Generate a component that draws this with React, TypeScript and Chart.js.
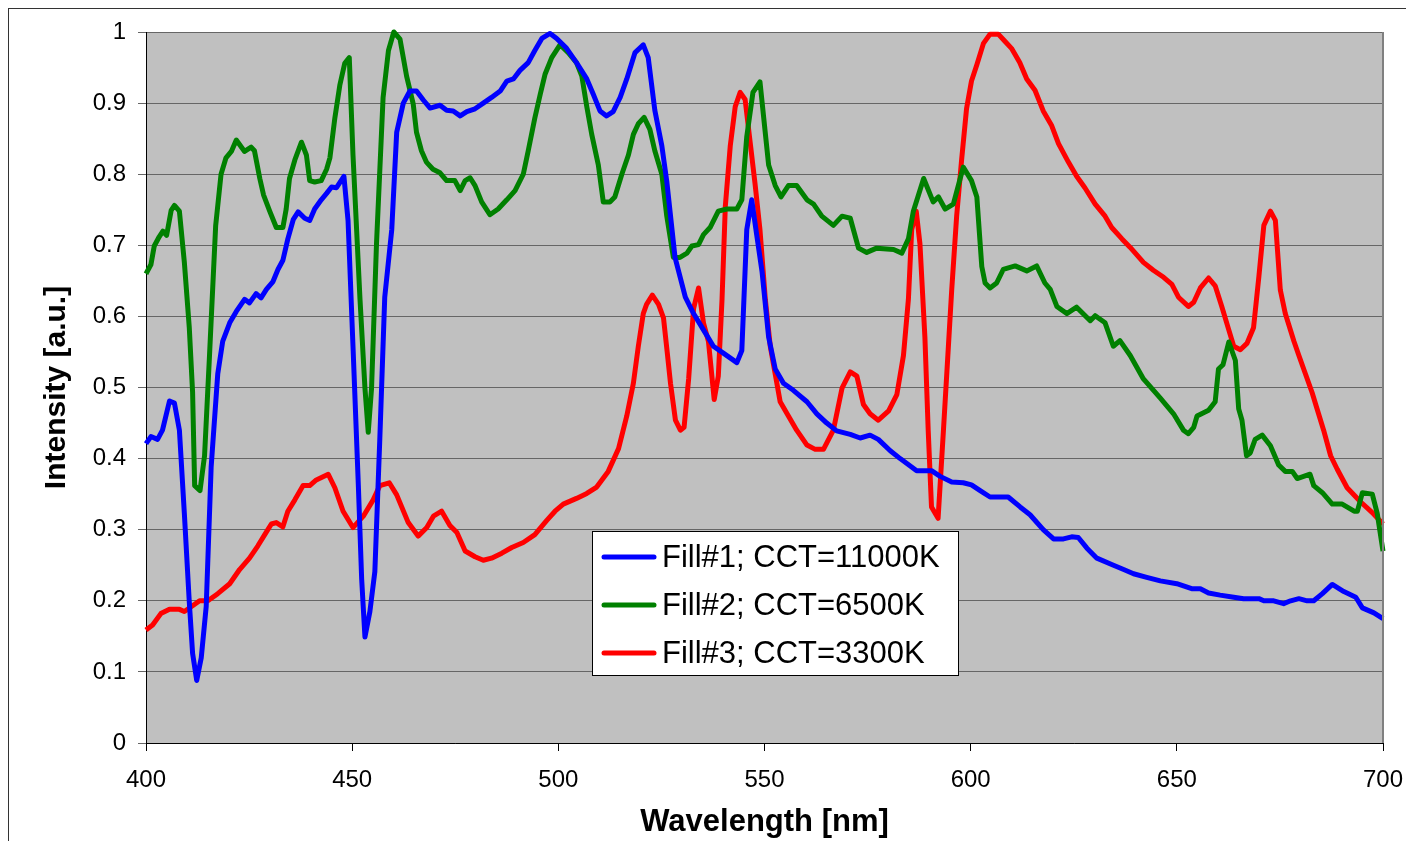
import React, { useEffect, useRef } from "react";
import { Chart, registerables } from "chart.js";

Chart.register(...registerables);

const xTicks = [400, 450, 500, 550, 600, 650, 700];
const yTicks = [0, 0.1, 0.2, 0.3, 0.4, 0.5, 0.6, 0.7, 0.8, 0.9, 1];

const seriesNames = ["Fill#1; CCT=11000K", "Fill#2; CCT=6500K", "Fill#3; CCT=3300K"];
const seriesColors = ["#0000FF", "#008000", "#FF0000"];

const fill1Nm = [400,401.2,402.8,404,405.7,406.9,408.1,409.3,410.5,411.3,412.3,413.4,414.6,415.8,417.4,418.6,420.3,421.9,423.9,425.1,426.7,427.9,429.2,430.8,432,433.2,434.4,435.7,436.9,438.5,439.7,440.9,442.5,443.8,445,446.2,448,449,450.2,451.5,452.3,453.1,454.3,455.5,456.7,457.9,459.6,460.8,462.4,464,465.6,467.3,468.9,471.3,472.9,474.5,476.2,477.8,479.8,481.8,483.8,485.9,487.5,489.1,490.7,492.7,494.3,496,498,499.6,502,504.4,506.9,508.5,510.1,511.7,513.3,515,516.6,518.6,520.6,521.8,523.4,525.1,526.3,528.3,530.8,532.8,535.2,537.6,540.1,543.3,544.5,545.7,546.9,548.1,549.4,551,552.6,554.6,557,560.3,562.7,565.1,567.5,570.8,573.2,575.6,577.6,580.5,582.9,586.9,590.5,592.6,595.4,598.2,600.2,602.3,604.7,609.1,612,614.4,617.6,620.1,622.5,624.5,626.1,628.2,630.6,634.2,637.1,639.5,642.7,646,650,653.6,655.7,657.7,660.5,663.8,666.2,669.9,671.1,673.5,675.9,677.6,679.6,681.6,683.2,685.3,687.7,690.5,693.4,695,697.8,700];
const fill1Val = [0.421,0.431,0.427,0.44,0.481,0.478,0.44,0.323,0.198,0.126,0.088,0.12,0.192,0.388,0.519,0.565,0.591,0.607,0.624,0.619,0.632,0.626,0.638,0.649,0.666,0.679,0.709,0.736,0.747,0.738,0.735,0.751,0.764,0.773,0.782,0.781,0.797,0.735,0.558,0.362,0.231,0.149,0.185,0.241,0.427,0.627,0.722,0.859,0.9,0.917,0.917,0.904,0.893,0.897,0.89,0.889,0.882,0.888,0.892,0.9,0.908,0.917,0.931,0.934,0.946,0.957,0.974,0.991,0.998,0.991,0.977,0.957,0.934,0.912,0.889,0.882,0.888,0.908,0.934,0.971,0.982,0.964,0.89,0.84,0.79,0.683,0.627,0.604,0.581,0.558,0.548,0.535,0.552,0.722,0.764,0.715,0.663,0.571,0.526,0.506,0.496,0.48,0.463,0.45,0.439,0.434,0.429,0.433,0.427,0.411,0.4,0.383,0.383,0.375,0.367,0.366,0.363,0.355,0.346,0.346,0.332,0.321,0.3,0.287,0.287,0.29,0.289,0.274,0.26,0.251,0.244,0.238,0.233,0.228,0.224,0.217,0.217,0.211,0.208,0.205,0.203,0.203,0.2,0.2,0.196,0.2,0.203,0.2,0.2,0.21,0.223,0.213,0.205,0.19,0.183,0.175];

const fill2Nm = [400,401.2,402,403.2,404.1,405,406.1,406.9,408.1,409.3,410.5,411.3,411.8,413.1,414.2,415.4,416.9,418.2,419.4,420.7,421.9,423.9,425.5,426.3,427.6,428.5,430,431.6,433.2,434,434.8,436.1,437.7,438.9,439.7,440.9,442.5,443.8,444.6,445.8,447,448.2,449.3,450.2,451.9,453.1,453.9,454.7,455.9,457.5,458.8,460.1,461.6,463.2,464.8,465.6,466.8,468,469.6,471.3,472.9,474.9,476.2,477.4,478.6,479.8,481.4,483.4,485.4,487.5,489.5,491.5,492.7,494.3,495.6,496.8,498.4,500.4,502.4,504.4,505.7,506.9,508.1,509.7,510.9,512.5,513.7,515.4,517,518.2,519.4,520.8,522.2,523.4,525.1,526.3,527.9,529.5,531.2,532.4,534,535.2,536.8,538.8,540.9,543.3,544.5,545.7,547.2,548.9,551,552.6,554,555.8,557.8,560.3,561.9,563.9,566.7,568.8,570.8,572.8,574.8,577.2,581.3,583.3,584.9,586.1,588.6,590.9,592.2,593.8,595.8,598.2,600.2,601.5,602.7,603.5,604.7,606.3,607.9,610.8,613.6,616,618,619.3,620.9,623.3,625.7,629,630.2,632.6,634.6,636.2,638.7,641.9,646,649.2,651.6,652.8,654.1,654.9,657.7,659.3,660.1,661.2,662.6,664.2,665,665.8,666.9,667.8,669,670.7,672.7,674.7,676.3,678,679.2,682.3,683.2,685.3,687.7,690.1,693,693.8,695,697.4,698.6,700];
const fill2Val = [0.66,0.673,0.699,0.712,0.72,0.714,0.749,0.756,0.748,0.676,0.584,0.493,0.362,0.355,0.404,0.545,0.728,0.8,0.823,0.832,0.848,0.832,0.838,0.833,0.794,0.771,0.748,0.725,0.725,0.751,0.794,0.82,0.845,0.827,0.791,0.789,0.791,0.807,0.823,0.879,0.925,0.956,0.964,0.827,0.624,0.499,0.437,0.499,0.702,0.908,0.974,1.0,0.99,0.938,0.899,0.859,0.833,0.817,0.807,0.802,0.791,0.791,0.777,0.791,0.795,0.784,0.761,0.743,0.751,0.764,0.777,0.8,0.833,0.879,0.912,0.941,0.964,0.982,0.971,0.957,0.938,0.895,0.856,0.813,0.761,0.761,0.768,0.8,0.827,0.856,0.871,0.88,0.863,0.833,0.8,0.741,0.683,0.683,0.689,0.699,0.701,0.715,0.725,0.748,0.751,0.751,0.764,0.853,0.915,0.93,0.813,0.784,0.768,0.784,0.784,0.764,0.758,0.741,0.728,0.741,0.738,0.696,0.69,0.696,0.694,0.689,0.709,0.748,0.794,0.761,0.768,0.751,0.758,0.81,0.791,0.768,0.67,0.647,0.64,0.647,0.666,0.671,0.664,0.671,0.647,0.638,0.614,0.604,0.613,0.594,0.601,0.591,0.558,0.566,0.545,0.512,0.485,0.463,0.44,0.435,0.444,0.46,0.468,0.48,0.526,0.532,0.564,0.538,0.47,0.454,0.404,0.408,0.427,0.433,0.418,0.391,0.382,0.382,0.372,0.378,0.362,0.352,0.336,0.336,0.326,0.326,0.352,0.35,0.323,0.27];

const fill3Nm = [400,401.6,403.6,405.7,408.1,409.3,411.3,413,415,417.4,420.3,422.7,425.1,427.1,428.8,430.4,431.6,433.2,434.4,436.1,438.1,439.7,441.3,444.2,445.8,447.8,450.2,452.7,455.1,456.7,459,460.8,463.6,466,468.1,469.7,471.7,473.7,475.4,477.4,479.8,481.8,483.8,486.3,488.7,491.5,494.3,497.2,499.2,501.2,504.4,506.9,509.3,512.1,514.6,516.6,518.2,519.4,520.6,521.4,522.8,524.3,525.5,526.4,527.2,528.4,529.6,530.5,531.6,532.8,534,535.2,536.4,537.8,538.8,539.7,540.5,541.7,542.9,544.1,545.3,546.5,547.7,548.9,550.2,551.4,552.6,553.8,555.8,557.8,560.3,562.3,564.3,566.7,568.8,570.8,572.4,574,575.6,577.6,580.1,582.1,583.7,584.9,585.7,586.8,587.7,588.9,589.7,590.5,592.1,593.4,594.6,595.4,596.6,597.8,599,600.2,601.5,603.1,604.7,606.7,608.3,609.9,611.9,613.6,615.6,617.6,619.6,621.3,623.7,625.7,627.7,630.2,632.6,634.2,636.7,638.7,641.9,644.3,646.8,648.8,650.4,652.8,654.1,655.7,657.7,659.3,660.9,662.6,663.8,665.4,667,668.6,669.9,671.1,672.7,673.9,675.1,676.3,678.4,679.6,681.2,682.8,684,685.6,687.3,688.9,691.3,694.6,697.4,700];
const fill3Val = [0.159,0.166,0.182,0.188,0.188,0.185,0.193,0.2,0.2,0.21,0.224,0.244,0.26,0.277,0.293,0.308,0.31,0.304,0.326,0.342,0.362,0.362,0.37,0.378,0.359,0.326,0.303,0.319,0.342,0.362,0.366,0.349,0.31,0.291,0.303,0.319,0.326,0.306,0.296,0.27,0.262,0.257,0.26,0.267,0.275,0.282,0.293,0.313,0.326,0.336,0.344,0.351,0.36,0.382,0.414,0.46,0.506,0.558,0.604,0.617,0.63,0.617,0.598,0.55,0.506,0.454,0.44,0.444,0.512,0.611,0.64,0.591,0.565,0.483,0.516,0.624,0.755,0.84,0.895,0.915,0.905,0.846,0.787,0.722,0.624,0.558,0.519,0.48,0.46,0.44,0.419,0.413,0.413,0.44,0.499,0.522,0.516,0.476,0.463,0.454,0.467,0.49,0.545,0.624,0.722,0.748,0.702,0.571,0.44,0.332,0.316,0.44,0.558,0.637,0.741,0.82,0.892,0.931,0.954,0.984,0.997,0.997,0.987,0.977,0.957,0.934,0.918,0.889,0.869,0.843,0.817,0.797,0.781,0.758,0.741,0.725,0.709,0.697,0.676,0.665,0.655,0.645,0.627,0.614,0.62,0.64,0.654,0.643,0.614,0.581,0.558,0.553,0.562,0.584,0.656,0.728,0.748,0.735,0.637,0.604,0.565,0.545,0.519,0.493,0.47,0.44,0.404,0.385,0.359,0.339,0.324,0.308];

const FONT = "'Liberation Sans', Arial, sans-serif";

function toPoints(xs: number[], ys: number[]) {
  return xs.map((x, i) => ({ x, y: ys[i] }));
}

const plotBgPlugin = {
  id: "plotBg",
  beforeDraw(chart: any) {
    const { ctx, chartArea } = chart;
    ctx.save();
    ctx.fillStyle = "#C0C0C0";
    ctx.fillRect(chartArea.left, chartArea.top, chartArea.right - chartArea.left, chartArea.bottom - chartArea.top);
    ctx.restore();
  },
  afterDatasetsDraw(chart: any) {
    const { ctx, chartArea } = chart;
    ctx.save();
    ctx.strokeStyle = "#808080";
    ctx.lineWidth = 2;
    ctx.beginPath();
    ctx.moveTo(chartArea.right, chartArea.top);
    ctx.lineTo(chartArea.right, chartArea.bottom);
    ctx.stroke();
    ctx.restore();
  },
};

const boxLegendPlugin = {
  id: "boxLegend",
  afterDraw(chart: any) {
    const { ctx, chartArea } = chart;
    const left = chartArea.left + 446;
    const top = chartArea.top + 499;
    const w = 366;
    const h = 144;
    ctx.save();
    ctx.fillStyle = "#FFFFFF";
    ctx.fillRect(left, top, w, h);
    ctx.strokeStyle = "#000000";
    ctx.lineWidth = 1;
    ctx.strokeRect(left + 0.5, top + 0.5, w, h);
    ctx.font = `31px ${FONT}`;
    ctx.textBaseline = "middle";
    ctx.textAlign = "left";
    seriesNames.forEach((name, i) => {
      const cy = top + 26 + i * 48;
      ctx.strokeStyle = seriesColors[i];
      ctx.lineWidth = 5;
      ctx.lineCap = "round";
      ctx.beginPath();
      ctx.moveTo(left + 12, cy);
      ctx.lineTo(left + 62, cy);
      ctx.stroke();
      ctx.fillStyle = "#000000";
      ctx.fillText(name, left + 70, cy + 1);
    });
    ctx.restore();
  },
};

export default function App() {
  const canvasRef = useRef<HTMLCanvasElement | null>(null);

  useEffect(() => {
    document.body.style.overflow = "hidden";
    const canvas = canvasRef.current;
    if (!canvas) return;
    const chart = new Chart(canvas, {
      type: "line",
      data: {
        datasets: [
          { label: seriesNames[0], data: toPoints(fill1Nm, fill1Val), borderColor: seriesColors[0] },
          { label: seriesNames[1], data: toPoints(fill2Nm, fill2Val), borderColor: seriesColors[1] },
          { label: seriesNames[2], data: toPoints(fill3Nm, fill3Val), borderColor: seriesColors[2] },
        ].map((d) => ({
          ...d,
          borderWidth: 5,
          pointRadius: 0,
          tension: 0,
          fill: false,
          borderJoinStyle: "round" as const,
          borderCapStyle: "butt" as const,
          clip: 6,
        })),
      },
      options: {
        animation: false,
        responsive: false,
        layout: { padding: { left: 0, top: 23, right: 31, bottom: 0 } },
        plugins: {
          legend: { display: false },
          tooltip: { enabled: false },
        },
        scales: {
          x: {
            type: "linear",
            min: 400,
            max: 700,
            afterBuildTicks(scale: any) {
              scale.ticks = xTicks.map((v) => ({ value: v }));
            },
            afterFit(scale: any) {
              scale.height = 98;
              scale.paddingLeft = 0;
              scale.paddingRight = 0;
            },
            border: { display: true, color: "#000000", width: 1 },
            grid: { drawOnChartArea: false, drawTicks: true, tickLength: 8, color: "#000000" },
            ticks: {
              color: "#000000",
              font: { family: FONT, size: 24 },
              padding: 15,
              maxRotation: 0,
              autoSkip: false,
            },
            title: {
              display: true,
              text: "Wavelength [nm]",
              color: "#000000",
              font: { family: FONT, size: 31, weight: "bold" },
              padding: { top: 6, bottom: 0 },
            },
          },
          y: {
            type: "linear",
            min: 0,
            max: 1,
            afterBuildTicks(scale: any) {
              scale.ticks = yTicks.map((v) => ({ value: v }));
            },
            afterFit(scale: any) {
              scale.width = 137;
              scale.paddingTop = 0;
              scale.paddingBottom = 0;
            },
            border: { display: true, color: "#000000", width: 1 },
            grid: { drawOnChartArea: true, drawTicks: true, tickLength: 8, color: "#666666", lineWidth: 1 },
            ticks: {
              color: "#000000",
              font: { family: FONT, size: 24 },
              padding: 12,
              autoSkip: false,
              callback: (v: any) => String(Math.round(Number(v) * 10) / 10),
            },
            title: {
              display: true,
              text: "Intensity [a.u.]",
              color: "#000000",
              font: { family: FONT, size: 30, weight: "bold" },
              padding: { top: 30, bottom: 0 },
            },
          },
        },
      },
      plugins: [plotBgPlugin, boxLegendPlugin],
    });
    return () => chart.destroy();
  }, []);

  return (
    <div
      style={{
        width: 1406,
        height: 833,
        borderTop: "1px solid #333",
        borderLeft: "1px solid #333",
        background: "#FFFFFF",
      }}
    >
      <canvas ref={canvasRef} width={1405} height={832} style={{ display: "block" }} />
    </div>
  );
}
